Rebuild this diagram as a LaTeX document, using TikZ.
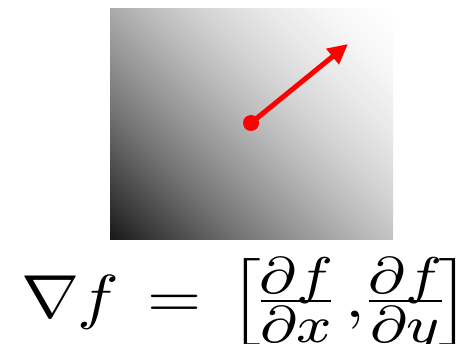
\RequirePackage{fix-cm}
\documentclass[tikz,border=0pt]{standalone}
\usepackage{amsmath,graphicx}
\usetikzlibrary{arrows.meta}
\DeclareMathSizes{10}{10}{8.5}{6}
\definecolor{g0}{gray}{0.10}
\definecolor{g1}{gray}{0.28}
\definecolor{g2}{gray}{0.45}
\definecolor{g3}{gray}{0.59}
\definecolor{g4}{gray}{0.72}
\definecolor{g5}{gray}{0.83}
\definecolor{g6}{gray}{0.91}
\definecolor{g7}{gray}{0.97}
\definecolor{g8}{gray}{1.00}
\pgfdeclarehorizontalshading{diaggray}{100bp}{color(0bp)=(g0); color(14.64bp)=(g0);
  color(23.48bp)=(g1); color(32.32bp)=(g2); color(41.16bp)=(g3); color(50bp)=(g4);
  color(58.84bp)=(g5); color(67.68bp)=(g6); color(76.52bp)=(g7); color(85.36bp)=(g8);
  color(100bp)=(g8)}
\newcommand{\lbrk}{\raisebox{0.5pt}{\scalebox{1}[0.8]{$\Bigl[$}}}
\newcommand{\rbrk}{\raisebox{0.5pt}{\scalebox{1}[0.8]{$\Bigr]$}}}
\newcommand{\putat}[2]{\rlap{\hspace*{#1}\makebox[0pt]{#2}}}
\newcommand{\pfrac}[3]{%
  \makebox[0pt]{\raisebox{3.93pt}{$\scriptstyle #1$}}%
  \makebox[0pt]{\rule[2.42pt]{#3}{0.4pt}}%
  \makebox[0pt]{\raisebox{-4.26pt}{$\scriptstyle #2$}}}
\begin{document}
\begin{tikzpicture}[x=1bp,y=-1bp,
  gradbox/.style={inner sep=0pt, outer sep=0pt, minimum width=283bp, minimum height=231bp,
    shading=diaggray, shading angle=45},
  reddot/.style={circle, fill=red, inner sep=0pt, minimum size=16bp},
  gradarrow/.style={draw=red, line width=5bp, -{Triangle[length=20bp,width=19bp]}},
  formula/.style={inner sep=0pt, anchor=base west}]
\useasboundingbox (0,0) rectangle (473,343);
\node[gradbox] (img) at (251.5,123.5) {};
\node[reddot] (dot) at (251,123) {};
\coordinate (tip) at (348,44);
\draw[gradarrow] (dot.center) -- (tip);
\node[formula] (eq) at (22,317) {\scalebox{7}[6.1]{\makebox[62pt][l]{%
  \putat{4.06pt}{$\nabla$}%
  \putat{10.93pt}{$f$}%
  \putat{21.86pt}{$=$}%
  \putat{31.9pt}{\lbrk}%
  \putat{39.29pt}{\pfrac{\partial f}{\partial x}{10pt}}%
  \putat{47.7pt}{$,$}%
  \putat{54.93pt}{\pfrac{\partial f}{\partial y}{10.4pt}}%
  \putat{62.1pt}{\rbrk}}}};
\end{tikzpicture}
\end{document}
